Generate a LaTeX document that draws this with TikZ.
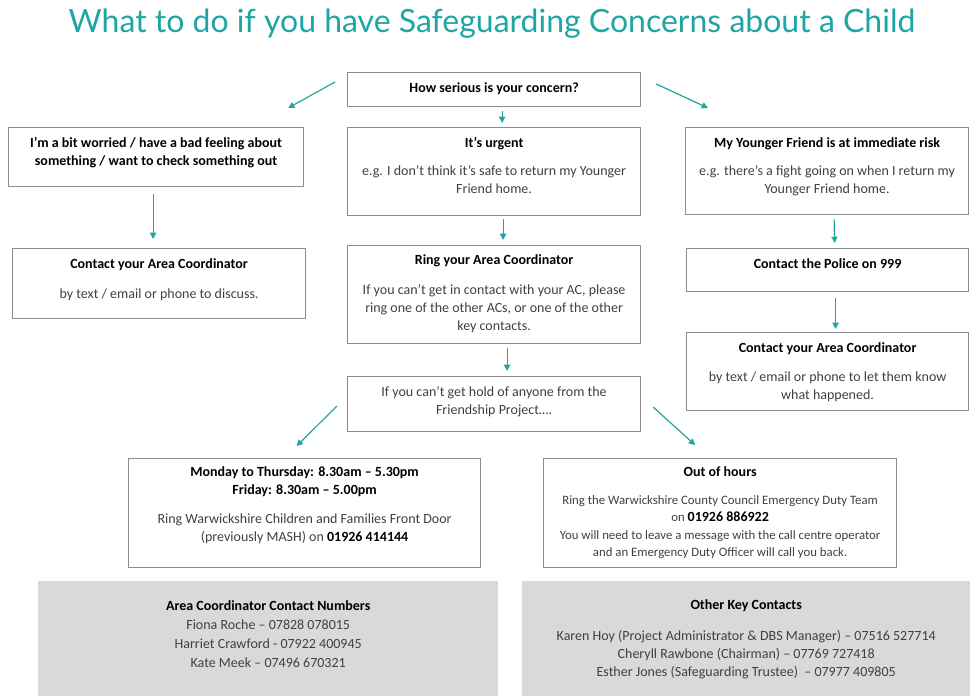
\documentclass[tikz,border=0pt]{standalone}
\usepackage{fontspec}
\setmainfont{Carlito}
\newfontfamily\titlefont{Lato}
\usetikzlibrary{arrows.meta,positioning}
\definecolor{sea}{HTML}{1FA5A3}
\definecolor{frame}{HTML}{8C8C8C}
\definecolor{shade}{HTML}{D9D9D9}
\definecolor{body}{HTML}{404040}
\newcommand{\hd}[1]{{\color{black}\bfseries #1}}

\begin{document}
\begin{tikzpicture}[x=1pt,y=-1pt,text=body,box/.style={draw=frame,line width=1.2pt,anchor=north west,inner sep=0pt},panel/.style={fill=shade,anchor=north west,inner sep=0pt},txt/.style={align=center,inner sep=0pt,font=\fontsize{14}{18}\selectfont},small/.style={align=center,inner sep=0pt,font=\fontsize{12.8}{17.5}\selectfont},flow/.style={-{Triangle[length=2.2mm,width=2.2mm]},sea,line width=1.2pt}]
 \useasboundingbox (0,0) rectangle (970,696);
 \node[text=sea,font=\titlefont\fontsize{32}{34}\selectfont] (title) at (492,24) {What to do if you have Safeguarding Concerns about a Child};
 \node[box,minimum width=293pt,minimum height=34pt] (q) at (347,72) {};
 \node[box,minimum width=295pt,minimum height=59pt] (worried) at (8,127) {};
 \node[box,minimum width=293pt,minimum height=88pt] (urgent) at (347,127) {};
 \node[box,minimum width=283pt,minimum height=87pt] (risk) at (685,127) {};
 \node[box,minimum width=293pt,minimum height=70pt] (cleft) at (12,248) {};
 \node[box,minimum width=293pt,minimum height=98pt] (ring) at (347,245) {};
 \node[box,minimum width=282pt,minimum height=43pt] (police) at (686,248) {};
 \node[box,minimum width=282pt,minimum height=78pt] (cright) at (686,332) {};
 \node[box,minimum width=293pt,minimum height=55pt] (hold) at (347,376) {};
 \node[box,minimum width=352pt,minimum height=109pt] (mon) at (128,458) {};
 \node[box,minimum width=353pt,minimum height=109pt] (out) at (543,458) {};
 \node[panel,minimum width=460pt,minimum height=115pt] (acs) at (38,581) {};
 \node[panel,minimum width=448pt,minimum height=115pt] (keys) at (522,581) {};

 \node[txt] at ([yshift=1pt]q.center) {\hd{How serious is your concern?}};
 \node[txt,below=10pt of worried.north] {\hd{I'm a bit worried / have a bad feeling about}\\\hd{something / want to check something out}};
 \node[txt,below=10pt of urgent.north] {\hd{It's urgent}\\[10pt]e.g. I don't think it's safe to return my Younger\\Friend home.};
 \node[txt,below=10pt of risk.north] {\hd{My Younger Friend is at immediate risk}\\[10pt]e.g. there's a fight going on when I return my\\Younger Friend home.};
 \node[txt,below=10pt of cleft.north] {\hd{Contact your Area Coordinator}\\[12pt]by text / email or phone to discuss.};
 \node[txt,below=9pt of ring.north] {\hd{Ring your Area Coordinator}\\[12pt]If you can't get in contact with your AC, please\\ring one of the other ACs, or one of the other\\key contacts.};
 \node[txt,below=10pt of police.north] {\hd{Contact the Police on 999}};
 \node[txt,below=10pt of cright.north] {\hd{Contact your Area Coordinator}\\[11pt]by text / email or phone to let them know\\what happened.};
 \node[txt,below=10pt of hold.north] {If you can't get hold of anyone from the\\Friendship Project\dots.};
 \node[txt,below=8pt of mon.north] {\hd{Monday to Thursday: 8.30am -- 5.30pm}\\\hd{Friday: 8.30am -- 5.00pm}\\[11pt]Ring Warwickshire Children and Families Front Door\\(previously MASH) on \hd{01926 414144}};
 \node[txt,below=8pt of out.north] (oh) {\hd{Out of hours}};
 \node[small,below=19pt of oh] {Ring the Warwickshire County Council Emergency Duty Team\\on {\fontsize{14}{17.5}\selectfont\hd{01926 886922}}\\You will need to leave a message with the call centre operator\\and an Emergency Duty Officer will call you back.};
 \node[txt,below=19pt of acs.north,font=\fontsize{14}{19.3}\selectfont] {\hd{Area Coordinator Contact Numbers}\\Fiona Roche -- 07828 078015\\Harriet Crawford - 07922 400945\\Kate Meek -- 07496 670321};
 \node[txt,below=18pt of keys.north] (okc) {\hd{Other Key Contacts}};
 \node[txt,below=19pt of okc] {Karen Hoy (Project Administrator \& DBS Manager) -- 07516 527714\\Cheryll Rawbone (Chairman) -- 07769 727418\\Esther Jones (Safeguarding Trustee)\ \ -- 07977 409805};

 \draw[flow] ([xshift=-12pt,yshift=-10pt]q.north west) -- ([xshift=-16pt,yshift=19pt]worried.north east);
 \draw[flow] ([xshift=8pt,yshift=-4pt]q.south) -- ([xshift=8pt,yshift=4pt]urgent.north);
 \draw[flow] ([xshift=15pt,yshift=-12pt]q.north east) -- ([xshift=23pt,yshift=19pt]risk.north west);
 \draw[flow] ([xshift=-3pt,yshift=-7pt]worried.south) -- ([xshift=-6pt,yshift=9pt]cleft.north);
 \draw[flow] ([xshift=9pt,yshift=-3pt]urgent.south) -- ([xshift=9pt,yshift=5pt]ring.north);
 \draw[flow] ([xshift=7pt,yshift=-4pt]risk.south) -- ([xshift=7pt,yshift=5pt]police.north);
 \draw[flow] ([xshift=8pt,yshift=-6pt]police.south) -- ([xshift=8pt,yshift=3pt]cright.north);
 \draw[flow] ([xshift=13pt,yshift=-4pt]ring.south) -- ([xshift=13pt,yshift=5pt]hold.north);
 \draw[flow] ([xshift=-10pt,yshift=-2pt]hold.west) -- ([xshift=-8pt,yshift=12pt]mon.north);
 \draw[flow] ([xshift=12pt,yshift=-3pt]hold.east) -- ([xshift=-25pt,yshift=13pt]out.north);
\end{tikzpicture}
\end{document}
